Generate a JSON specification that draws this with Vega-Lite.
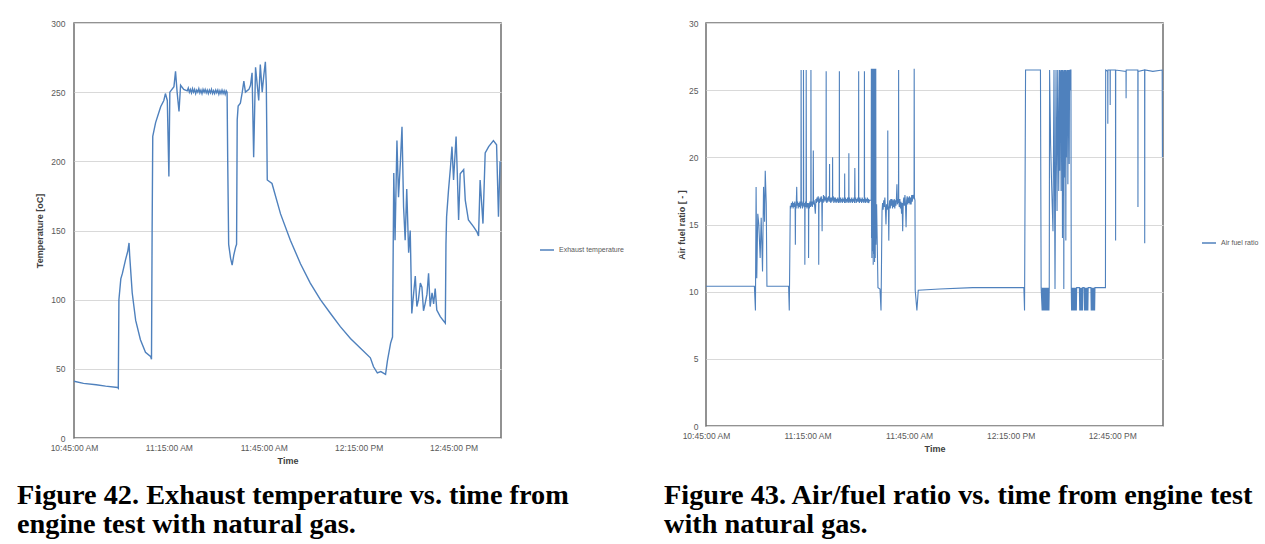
{
  "$schema": "https://vega.github.io/schema/vega-lite/v6.json",
  "background": "white",
  "padding": {"left": 16, "top": 18, "right": 0, "bottom": 0},
  "bounds": "flush",
  "spacing": 205,
  "resolve": {"scale": {"color": "independent"}, "legend": {"color": "independent"}},
  "config": {
    "view": {"stroke": "#6f6f6f", "strokeWidth": 1.5},
    "axis": {"labelFont": "Liberation Sans", "labelFontSize": 8.5, "labelColor": "#595959", "titleFont": "Liberation Sans", "titleFontSize": 9, "titleColor": "#404040", "titleFontWeight": "bold", "domain": false, "ticks": false, "tickSize": 0, "gridColor": "#d9d9d9", "gridWidth": 1, "labelFlush": false},
    "legend": {"labelFont": "Liberation Sans", "labelFontSize": 7, "labelColor": "#595959", "symbolType": "stroke", "symbolSize": 196, "symbolStrokeWidth": 1.5, "padding": 0, "orient": "none"},
    "title": {"font": "Liberation Serif", "fontSize": 28.3, "fontWeight": "bold", "color": "#000000", "anchor": "start", "orient": "bottom", "frame": "group", "lineHeight": 29.5}
  },
  "datasets": {
    "temp": [
      {"t": "10:45:00", "v": 41}, {"t": "10:48:00", "v": 39.5}, {"t": "10:52:00", "v": 38.5}, {"t": "10:55:00", "v": 37.5},
      {"t": "10:58:48", "v": 36.5}, {"t": "10:59:00", "v": 36}, {"t": "10:59:12", "v": 100}, {"t": "10:59:48", "v": 115},
      {"t": "11:00:18", "v": 119}, {"t": "11:01:18", "v": 129}, {"t": "11:02:00", "v": 135}, {"t": "11:02:24", "v": 141},
      {"t": "11:02:36", "v": 132}, {"t": "11:03:24", "v": 105}, {"t": "11:04:30", "v": 85}, {"t": "11:06:00", "v": 71},
      {"t": "11:07:36", "v": 62}, {"t": "11:09:12", "v": 59}, {"t": "11:09:30", "v": 57}, {"t": "11:09:42", "v": 150},
      {"t": "11:09:54", "v": 218}, {"t": "11:10:48", "v": 228}, {"t": "11:12:24", "v": 239.5}, {"t": "11:13:24", "v": 244},
      {"t": "11:13:54", "v": 249}, {"t": "11:14:30", "v": 244}, {"t": "11:15:00", "v": 189}, {"t": "11:15:18", "v": 250},
      {"t": "11:16:36", "v": 254}, {"t": "11:17:06", "v": 265}, {"t": "11:17:36", "v": 250}, {"t": "11:18:12", "v": 236},
      {"t": "11:18:42", "v": 255}, {"t": "11:19:42", "v": 252}, {"t": "11:20:48", "v": 251}, {"t": "11:21:08", "v": 253},
      {"t": "11:21:28", "v": 250}, {"t": "11:21:48", "v": 252}, {"t": "11:22:08", "v": 249.5}, {"t": "11:22:28", "v": 252.5},
      {"t": "11:22:48", "v": 250}, {"t": "11:23:08", "v": 252}, {"t": "11:23:28", "v": 249}, {"t": "11:23:48", "v": 251.5},
      {"t": "11:24:08", "v": 250}, {"t": "11:24:28", "v": 252.5}, {"t": "11:24:48", "v": 249.5}, {"t": "11:25:08", "v": 251.5},
      {"t": "11:25:28", "v": 249}, {"t": "11:25:48", "v": 252}, {"t": "11:26:08", "v": 250}, {"t": "11:26:28", "v": 252},
      {"t": "11:26:48", "v": 249.5}, {"t": "11:27:08", "v": 251.5}, {"t": "11:27:28", "v": 249}, {"t": "11:27:48", "v": 251.5},
      {"t": "11:28:08", "v": 249.5}, {"t": "11:28:28", "v": 252}, {"t": "11:28:48", "v": 249}, {"t": "11:29:08", "v": 251},
      {"t": "11:29:28", "v": 249}, {"t": "11:29:48", "v": 251.5}, {"t": "11:30:08", "v": 249.5}, {"t": "11:30:28", "v": 251.5},
      {"t": "11:30:48", "v": 248.5}, {"t": "11:31:08", "v": 251}, {"t": "11:31:28", "v": 249}, {"t": "11:31:48", "v": 251.5},
      {"t": "11:32:08", "v": 249}, {"t": "11:32:28", "v": 251}, {"t": "11:32:48", "v": 248.5}, {"t": "11:33:08", "v": 251},
      {"t": "11:33:24", "v": 250}, {"t": "11:33:36", "v": 200},
      {"t": "11:33:54", "v": 140}, {"t": "11:34:30", "v": 130}, {"t": "11:35:00", "v": 125}, {"t": "11:35:30", "v": 132},
      {"t": "11:36:06", "v": 138}, {"t": "11:36:24", "v": 140}, {"t": "11:36:36", "v": 230}, {"t": "11:36:54", "v": 240},
      {"t": "11:37:36", "v": 242}, {"t": "11:38:12", "v": 250}, {"t": "11:38:42", "v": 258}, {"t": "11:39:12", "v": 250},
      {"t": "11:40:18", "v": 252}, {"t": "11:40:48", "v": 255}, {"t": "11:41:18", "v": 264}, {"t": "11:41:48", "v": 203},
      {"t": "11:42:24", "v": 268}, {"t": "11:43:24", "v": 244}, {"t": "11:43:54", "v": 270}, {"t": "11:44:30", "v": 250},
      {"t": "11:45:00", "v": 262}, {"t": "11:45:30", "v": 272}, {"t": "11:45:48", "v": 255}, {"t": "11:46:06", "v": 186.5},
      {"t": "11:47:36", "v": 184}, {"t": "11:50:18", "v": 162}, {"t": "11:53:24", "v": 143}, {"t": "11:56:36", "v": 126},
      {"t": "11:59:42", "v": 112}, {"t": "12:02:54", "v": 100}, {"t": "12:06:06", "v": 90}, {"t": "12:09:12", "v": 80.5},
      {"t": "12:12:24", "v": 72}, {"t": "12:15:30", "v": 65}, {"t": "12:18:42", "v": 58}, {"t": "12:19:42", "v": 51.5},
      {"t": "12:20:54", "v": 47}, {"t": "12:22:00", "v": 48}, {"t": "12:23:30", "v": 46}, {"t": "12:24:06", "v": 56},
      {"t": "12:25:06", "v": 68.6}, {"t": "12:25:42", "v": 73}, {"t": "12:26:06", "v": 191.5}, {"t": "12:26:30", "v": 143},
      {"t": "12:27:06", "v": 215}, {"t": "12:27:36", "v": 174}, {"t": "12:28:12", "v": 200}, {"t": "12:28:42", "v": 225},
      {"t": "12:29:12", "v": 167}, {"t": "12:29:42", "v": 143}, {"t": "12:30:12", "v": 180}, {"t": "12:30:48", "v": 134},
      {"t": "12:31:18", "v": 150}, {"t": "12:31:48", "v": 90}, {"t": "12:32:24", "v": 105}, {"t": "12:32:54", "v": 117},
      {"t": "12:33:24", "v": 95}, {"t": "12:33:54", "v": 100}, {"t": "12:34:30", "v": 112}, {"t": "12:35:00", "v": 109},
      {"t": "12:35:30", "v": 92}, {"t": "12:36:00", "v": 97}, {"t": "12:36:36", "v": 104}, {"t": "12:37:06", "v": 119},
      {"t": "12:37:36", "v": 95}, {"t": "12:38:12", "v": 105}, {"t": "12:38:42", "v": 97}, {"t": "12:39:12", "v": 108},
      {"t": "12:39:42", "v": 92.5}, {"t": "12:40:48", "v": 87.7}, {"t": "12:42:24", "v": 83}, {"t": "12:42:36", "v": 140},
      {"t": "12:42:48", "v": 160}, {"t": "12:43:24", "v": 179}, {"t": "12:44:00", "v": 195}, {"t": "12:44:30", "v": 210.6},
      {"t": "12:45:00", "v": 186.5}, {"t": "12:45:48", "v": 218}, {"t": "12:46:12", "v": 190}, {"t": "12:46:36", "v": 157.6},
      {"t": "12:47:06", "v": 191}, {"t": "12:48:12", "v": 194}, {"t": "12:48:42", "v": 172}, {"t": "12:49:42", "v": 157.6},
      {"t": "12:51:18", "v": 152.8}, {"t": "12:52:24", "v": 149}, {"t": "12:52:54", "v": 146}, {"t": "12:53:24", "v": 186.5},
      {"t": "12:54:18", "v": 155}, {"t": "12:55:00", "v": 206}, {"t": "12:56:06", "v": 210.6}, {"t": "12:57:36", "v": 215},
      {"t": "12:58:36", "v": 212}, {"t": "12:59:12", "v": 160}, {"t": "12:59:42", "v": 200}
    ],
    "afr": [
      {"t": "10:45:00", "v": 10.4}, {"t": "10:59:18", "v": 10.4}, {"t": "10:59:36", "v": 8.6}, {"t": "10:59:48", "v": 17.8},
      {"t": "11:00:00", "v": 11.0}, {"t": "11:00:18", "v": 15.8}, {"t": "11:00:36", "v": 15.0}, {"t": "11:01:00", "v": 12.5},
      {"t": "11:01:18", "v": 15.5}, {"t": "11:01:42", "v": 11.5}, {"t": "11:02:00", "v": 17.8}, {"t": "11:02:18", "v": 15.2},
      {"t": "11:02:30", "v": 19.0}, {"t": "11:02:48", "v": 16.5}, {"t": "11:03:00", "v": 10.4}, {"t": "11:09:24", "v": 10.4},
      {"t": "11:09:36", "v": 8.6}, {"t": "11:09:54", "v": 16.4},
      {"t": "11:10:04", "v": 16.2}, {"t": "11:10:14", "v": 16.6}, {"t": "11:10:24", "v": 16.3}, {"t": "11:10:34", "v": 16.7},
      {"t": "11:10:44", "v": 16.2}, {"t": "11:10:54", "v": 16.6}, {"t": "11:11:04", "v": 16.3}, {"t": "11:11:14", "v": 16.7},
      {"t": "11:11:20", "v": 16.4}, {"t": "11:11:24", "v": 13.5}, {"t": "11:11:28", "v": 16.5}, {"t": "11:11:38", "v": 16.2},
      {"t": "11:11:48", "v": 17.8}, {"t": "11:11:54", "v": 16.4}, {"t": "11:12:04", "v": 16.7}, {"t": "11:12:14", "v": 16.2},
      {"t": "11:12:24", "v": 16.6}, {"t": "11:12:34", "v": 16.3}, {"t": "11:12:44", "v": 16.7}, {"t": "11:12:54", "v": 16.2},
      {"t": "11:13:02", "v": 16.5}, {"t": "11:13:06", "v": 26.5}, {"t": "11:13:10", "v": 16.4}, {"t": "11:13:20", "v": 16.7},
      {"t": "11:13:30", "v": 16.2}, {"t": "11:13:40", "v": 16.6}, {"t": "11:13:46", "v": 16.4}, {"t": "11:13:48", "v": 26.5},
      {"t": "11:13:52", "v": 16.5}, {"t": "11:14:02", "v": 16.3}, {"t": "11:14:10", "v": 16.6}, {"t": "11:14:12", "v": 12.0},
      {"t": "11:14:16", "v": 16.4}, {"t": "11:14:26", "v": 16.7}, {"t": "11:14:34", "v": 16.3}, {"t": "11:14:36", "v": 26.5},
      {"t": "11:14:40", "v": 16.6}, {"t": "11:14:50", "v": 16.2}, {"t": "11:15:00", "v": 16.6}, {"t": "11:15:10", "v": 16.3},
      {"t": "11:15:16", "v": 16.5}, {"t": "11:15:18", "v": 12.5}, {"t": "11:15:22", "v": 16.6}, {"t": "11:15:32", "v": 16.2},
      {"t": "11:15:42", "v": 16.7}, {"t": "11:15:52", "v": 16.3}, {"t": "11:15:58", "v": 16.6}, {"t": "11:16:00", "v": 26.5},
      {"t": "11:16:04", "v": 16.4}, {"t": "11:16:14", "v": 16.7}, {"t": "11:16:24", "v": 16.3}, {"t": "11:16:38", "v": 16.8},
      {"t": "11:16:42", "v": 20.5}, {"t": "11:16:46", "v": 16.5}, {"t": "11:16:56", "v": 16.8}, {"t": "11:17:06", "v": 16.4},
      {"t": "11:17:18", "v": 15.8}, {"t": "11:17:28", "v": 16.9}, {"t": "11:17:38", "v": 16.6}, {"t": "11:17:48", "v": 17.0},
      {"t": "11:17:58", "v": 16.7}, {"t": "11:18:08", "v": 17.1}, {"t": "11:18:16", "v": 16.8}, {"t": "11:18:18", "v": 12.0},
      {"t": "11:18:22", "v": 16.9}, {"t": "11:18:32", "v": 16.6}, {"t": "11:18:42", "v": 17.0}, {"t": "11:18:52", "v": 16.7},
      {"t": "11:19:02", "v": 17.1}, {"t": "11:19:12", "v": 16.8}, {"t": "11:19:18", "v": 14.5}, {"t": "11:19:24", "v": 16.9},
      {"t": "11:19:34", "v": 16.6}, {"t": "11:19:42", "v": 17.2},
      {"t": "11:19:52", "v": 16.7}, {"t": "11:20:02", "v": 17.1}, {"t": "11:20:12", "v": 16.8}, {"t": "11:20:22", "v": 17.0},
      {"t": "11:20:28", "v": 16.7}, {"t": "11:20:30", "v": 26.4}, {"t": "11:20:32", "v": 16.9}, {"t": "11:20:42", "v": 16.6},
      {"t": "11:20:52", "v": 17.0}, {"t": "11:21:02", "v": 16.7}, {"t": "11:21:12", "v": 17.1}, {"t": "11:21:22", "v": 16.8},
      {"t": "11:21:28", "v": 16.9}, {"t": "11:21:30", "v": 19.5}, {"t": "11:21:32", "v": 16.7}, {"t": "11:21:42", "v": 17.0},
      {"t": "11:21:52", "v": 16.6}, {"t": "11:22:02", "v": 17.0}, {"t": "11:22:12", "v": 16.7}, {"t": "11:22:22", "v": 16.9},
      {"t": "11:22:24", "v": 20.0}, {"t": "11:22:26", "v": 16.8}, {"t": "11:22:36", "v": 17.1}, {"t": "11:22:46", "v": 16.6},
      {"t": "11:22:56", "v": 17.0}, {"t": "11:23:06", "v": 16.7}, {"t": "11:23:16", "v": 17.0}, {"t": "11:23:26", "v": 16.6},
      {"t": "11:23:36", "v": 16.9}, {"t": "11:23:46", "v": 16.7}, {"t": "11:23:56", "v": 17.0}, {"t": "11:24:06", "v": 16.6},
      {"t": "11:24:16", "v": 16.9}, {"t": "11:24:22", "v": 16.7}, {"t": "11:24:24", "v": 26.4}, {"t": "11:24:26", "v": 16.9},
      {"t": "11:24:36", "v": 16.6}, {"t": "11:24:46", "v": 17.0}, {"t": "11:24:56", "v": 16.7}, {"t": "11:25:06", "v": 16.9},
      {"t": "11:25:16", "v": 16.6}, {"t": "11:25:26", "v": 17.0}, {"t": "11:25:36", "v": 16.7}, {"t": "11:25:46", "v": 16.9},
      {"t": "11:25:56", "v": 16.6}, {"t": "11:25:58", "v": 18.8}, {"t": "11:26:00", "v": 16.8}, {"t": "11:26:10", "v": 17.0},
      {"t": "11:26:20", "v": 16.6}, {"t": "11:26:30", "v": 16.9}, {"t": "11:26:40", "v": 16.7}, {"t": "11:26:50", "v": 17.0},
      {"t": "11:27:00", "v": 16.6}, {"t": "11:27:10", "v": 16.9}, {"t": "11:27:12", "v": 20.3}, {"t": "11:27:14", "v": 16.7},
      {"t": "11:27:24", "v": 17.0}, {"t": "11:27:34", "v": 16.6}, {"t": "11:27:44", "v": 16.9}, {"t": "11:27:54", "v": 16.7},
      {"t": "11:28:04", "v": 17.0}, {"t": "11:28:14", "v": 16.6}, {"t": "11:28:24", "v": 16.9}, {"t": "11:28:34", "v": 16.7},
      {"t": "11:28:44", "v": 17.0}, {"t": "11:28:54", "v": 16.6}, {"t": "11:28:58", "v": 19.2}, {"t": "11:29:02", "v": 16.8},
      {"t": "11:29:12", "v": 17.0}, {"t": "11:29:22", "v": 16.6}, {"t": "11:29:32", "v": 16.9}, {"t": "11:29:42", "v": 16.7},
      {"t": "11:29:52", "v": 17.0}, {"t": "11:30:04", "v": 16.7}, {"t": "11:30:06", "v": 26.4}, {"t": "11:30:08", "v": 16.9},
      {"t": "11:30:18", "v": 16.6}, {"t": "11:30:28", "v": 17.0}, {"t": "11:30:38", "v": 16.7}, {"t": "11:30:48", "v": 16.9},
      {"t": "11:30:58", "v": 16.6}, {"t": "11:31:08", "v": 17.0}, {"t": "11:31:18", "v": 16.7}, {"t": "11:31:28", "v": 16.9},
      {"t": "11:31:38", "v": 16.6}, {"t": "11:31:46", "v": 16.9}, {"t": "11:31:48", "v": 26.4}, {"t": "11:31:50", "v": 16.7},
      {"t": "11:32:00", "v": 17.0}, {"t": "11:32:10", "v": 16.6}, {"t": "11:32:20", "v": 16.9}, {"t": "11:32:30", "v": 16.7},
      {"t": "11:32:40", "v": 17.0}, {"t": "11:32:50", "v": 16.6}, {"t": "11:33:00", "v": 16.9}, {"t": "11:33:10", "v": 16.7},
      {"t": "11:33:18", "v": 16.8}, {"t": "11:33:48", "v": 16.8}, {"t": "11:33:51", "v": 26.6}, {"t": "11:33:54", "v": 14.0},
      {"t": "11:33:57", "v": 26.6}, {"t": "11:34:00", "v": 12.5}, {"t": "11:34:03", "v": 26.4}, {"t": "11:34:06", "v": 15.0},
      {"t": "11:34:09", "v": 26.6}, {"t": "11:34:12", "v": 13.0}, {"t": "11:34:15", "v": 26.6}, {"t": "11:34:18", "v": 16.0},
      {"t": "11:34:21", "v": 26.5}, {"t": "11:34:24", "v": 12.0}, {"t": "11:34:27", "v": 26.6}, {"t": "11:34:30", "v": 14.5},
      {"t": "11:34:33", "v": 26.6}, {"t": "11:34:36", "v": 12.8}, {"t": "11:34:39", "v": 26.6}, {"t": "11:34:42", "v": 15.5},
      {"t": "11:34:45", "v": 26.5}, {"t": "11:34:48", "v": 12.2}, {"t": "11:34:51", "v": 26.6}, {"t": "11:34:54", "v": 14.0},
      {"t": "11:34:57", "v": 26.6}, {"t": "11:35:00", "v": 12.5}, {"t": "11:35:03", "v": 26.6}, {"t": "11:35:06", "v": 15.0},
      {"t": "11:35:09", "v": 26.6}, {"t": "11:35:12", "v": 13.5}, {"t": "11:35:24", "v": 16.5}, {"t": "11:35:48", "v": 10.3},
      {"t": "11:36:24", "v": 10.2}, {"t": "11:36:42", "v": 8.6},
      {"t": "11:37:00", "v": 16.0}, {"t": "11:37:10", "v": 16.6}, {"t": "11:37:20", "v": 16.1}, {"t": "11:37:30", "v": 16.8},
      {"t": "11:37:40", "v": 16.3}, {"t": "11:37:50", "v": 17.0}, {"t": "11:38:00", "v": 16.2}, {"t": "11:38:10", "v": 15.0},
      {"t": "11:38:20", "v": 16.5}, {"t": "11:38:30", "v": 16.1}, {"t": "11:38:40", "v": 16.7}, {"t": "11:38:42", "v": 22.0},
      {"t": "11:38:44", "v": 16.4}, {"t": "11:38:54", "v": 16.0}, {"t": "11:39:00", "v": 13.8}, {"t": "11:39:06", "v": 16.3},
      {"t": "11:39:16", "v": 16.8}, {"t": "11:39:26", "v": 16.2}, {"t": "11:39:36", "v": 16.9}, {"t": "11:39:46", "v": 16.4},
      {"t": "11:39:56", "v": 16.9}, {"t": "11:40:06", "v": 16.2}, {"t": "11:40:16", "v": 16.8}, {"t": "11:40:26", "v": 16.3},
      {"t": "11:40:36", "v": 16.9}, {"t": "11:40:46", "v": 16.2}, {"t": "11:40:56", "v": 16.8}, {"t": "11:41:06", "v": 16.4},
      {"t": "11:41:16", "v": 17.0}, {"t": "11:41:24", "v": 18.0}, {"t": "11:41:32", "v": 16.5}, {"t": "11:41:42", "v": 16.9},
      {"t": "11:41:52", "v": 16.6}, {"t": "11:41:54", "v": 26.5}, {"t": "11:41:56", "v": 16.8}, {"t": "11:42:06", "v": 16.3},
      {"t": "11:42:16", "v": 16.9}, {"t": "11:42:26", "v": 16.2}, {"t": "11:42:36", "v": 16.7}, {"t": "11:42:46", "v": 15.8},
      {"t": "11:42:56", "v": 16.6}, {"t": "11:43:06", "v": 14.5}, {"t": "11:43:16", "v": 16.6}, {"t": "11:43:26", "v": 17.0},
      {"t": "11:43:36", "v": 16.4}, {"t": "11:43:46", "v": 17.2}, {"t": "11:43:56", "v": 16.5}, {"t": "11:44:06", "v": 14.8},
      {"t": "11:44:16", "v": 16.8}, {"t": "11:44:26", "v": 17.1}, {"t": "11:44:36", "v": 16.5}, {"t": "11:44:46", "v": 17.0},
      {"t": "11:44:56", "v": 16.6}, {"t": "11:45:06", "v": 17.1}, {"t": "11:45:16", "v": 16.5}, {"t": "11:45:26", "v": 17.0},
      {"t": "11:45:36", "v": 16.5}, {"t": "11:45:46", "v": 17.2}, {"t": "11:45:56", "v": 16.7}, {"t": "11:46:06", "v": 17.2},
      {"t": "11:46:28", "v": 16.9}, {"t": "11:46:30", "v": 26.6}, {"t": "11:46:34", "v": 17.0}, {"t": "11:46:44", "v": 16.8},
      {"t": "11:46:48", "v": 10.1},
      {"t": "11:47:18", "v": 8.6}, {"t": "11:47:42", "v": 10.1}, {"t": "11:54:00", "v": 10.2}, {"t": "12:03:48", "v": 10.3},
      {"t": "12:18:54", "v": 10.3}, {"t": "12:19:06", "v": 8.6}, {"t": "12:19:24", "v": 26.5}, {"t": "12:23:48", "v": 26.5},
      {"t": "12:24:00", "v": 10.3}, {"t": "12:24:18", "v": 8.6}, {"t": "12:24:22", "v": 10.3}, {"t": "12:24:26", "v": 8.6},
      {"t": "12:24:30", "v": 10.3}, {"t": "12:24:34", "v": 8.6}, {"t": "12:24:38", "v": 10.3}, {"t": "12:24:42", "v": 8.6},
      {"t": "12:24:46", "v": 10.3}, {"t": "12:24:50", "v": 8.6}, {"t": "12:24:54", "v": 10.3}, {"t": "12:24:58", "v": 8.6},
      {"t": "12:25:02", "v": 10.3}, {"t": "12:25:06", "v": 8.6}, {"t": "12:25:10", "v": 10.3}, {"t": "12:25:14", "v": 8.6},
      {"t": "12:25:18", "v": 10.3}, {"t": "12:25:22", "v": 8.6}, {"t": "12:25:26", "v": 10.3}, {"t": "12:25:30", "v": 8.6},
      {"t": "12:25:34", "v": 10.3}, {"t": "12:25:38", "v": 8.6}, {"t": "12:25:42", "v": 10.3}, {"t": "12:25:46", "v": 8.6},
      {"t": "12:25:50", "v": 10.3}, {"t": "12:25:54", "v": 8.6}, {"t": "12:25:58", "v": 10.3}, {"t": "12:26:02", "v": 8.6},
      {"t": "12:26:06", "v": 10.3}, {"t": "12:26:10", "v": 8.6}, {"t": "12:26:14", "v": 10.3}, {"t": "12:26:18", "v": 8.6},
      {"t": "12:26:24", "v": 10.3}, {"t": "12:26:30", "v": 26.5}, {"t": "12:26:48", "v": 21.0}, {"t": "12:27:06", "v": 18.0},
      {"t": "12:27:30", "v": 14.5}, {"t": "12:27:48", "v": 26.5}, {"t": "12:28:06", "v": 10.2}, {"t": "12:28:24", "v": 26.5},
      {"t": "12:28:42", "v": 16.0}, {"t": "12:28:54", "v": 26.5}, {"t": "12:29:12", "v": 17.5}, {"t": "12:29:24", "v": 26.5},
      {"t": "12:29:30", "v": 19.0}, {"t": "12:29:36", "v": 26.5}, {"t": "12:29:42", "v": 22.0}, {"t": "12:29:48", "v": 26.4},
      {"t": "12:29:54", "v": 17.5}, {"t": "12:30:00", "v": 26.5}, {"t": "12:30:06", "v": 20.5}, {"t": "12:30:12", "v": 26.5},
      {"t": "12:30:18", "v": 14.0}, {"t": "12:30:24", "v": 26.5}, {"t": "12:30:30", "v": 21.5}, {"t": "12:30:36", "v": 26.4},
      {"t": "12:30:42", "v": 10.2}, {"t": "12:30:48", "v": 26.5}, {"t": "12:30:54", "v": 18.5}, {"t": "12:31:00", "v": 26.5},
      {"t": "12:31:06", "v": 23.0}, {"t": "12:31:12", "v": 26.5}, {"t": "12:31:18", "v": 13.8}, {"t": "12:31:24", "v": 26.5},
      {"t": "12:31:30", "v": 20.0}, {"t": "12:31:36", "v": 26.4}, {"t": "12:31:42", "v": 22.5}, {"t": "12:31:48", "v": 26.5},
      {"t": "12:31:54", "v": 18.0}, {"t": "12:32:00", "v": 26.5}, {"t": "12:32:06", "v": 24.0}, {"t": "12:32:12", "v": 26.5},
      {"t": "12:32:18", "v": 19.5}, {"t": "12:32:24", "v": 26.5}, {"t": "12:32:30", "v": 25.0}, {"t": "12:32:36", "v": 26.5},
      {"t": "12:32:48", "v": 26.5}, {"t": "12:32:54", "v": 10.3}, {"t": "12:33:00", "v": 8.6}, {"t": "12:33:06", "v": 10.3},
      {"t": "12:33:12", "v": 8.6}, {"t": "12:33:18", "v": 10.3}, {"t": "12:33:24", "v": 8.6}, {"t": "12:33:30", "v": 10.3},
      {"t": "12:33:36", "v": 8.6}, {"t": "12:33:42", "v": 10.3}, {"t": "12:33:48", "v": 8.6}, {"t": "12:33:54", "v": 10.3},
      {"t": "12:34:00", "v": 8.6}, {"t": "12:34:06", "v": 10.3}, {"t": "12:34:12", "v": 8.6}, {"t": "12:34:18", "v": 10.3},
      {"t": "12:34:24", "v": 8.6}, {"t": "12:34:30", "v": 10.3}, {"t": "12:35:18", "v": 10.3}, {"t": "12:35:24", "v": 8.6},
      {"t": "12:35:30", "v": 10.3}, {"t": "12:35:36", "v": 8.6}, {"t": "12:35:42", "v": 10.3}, {"t": "12:35:48", "v": 8.6},
      {"t": "12:35:54", "v": 10.3}, {"t": "12:36:00", "v": 8.6}, {"t": "12:36:06", "v": 10.3}, {"t": "12:36:12", "v": 8.6},
      {"t": "12:36:18", "v": 10.3}, {"t": "12:36:42", "v": 10.3}, {"t": "12:36:48", "v": 8.6}, {"t": "12:36:54", "v": 10.3},
      {"t": "12:37:00", "v": 8.6}, {"t": "12:37:06", "v": 10.3}, {"t": "12:37:12", "v": 8.6}, {"t": "12:37:18", "v": 10.3},
      {"t": "12:37:24", "v": 8.6}, {"t": "12:37:30", "v": 10.3}, {"t": "12:37:36", "v": 8.6}, {"t": "12:37:42", "v": 10.3},
      {"t": "12:37:48", "v": 8.6}, {"t": "12:37:54", "v": 10.3}, {"t": "12:38:42", "v": 10.3}, {"t": "12:38:48", "v": 8.6},
      {"t": "12:38:54", "v": 10.3}, {"t": "12:39:00", "v": 8.6}, {"t": "12:39:06", "v": 10.3}, {"t": "12:39:12", "v": 8.6},
      {"t": "12:39:18", "v": 10.3}, {"t": "12:39:24", "v": 8.6}, {"t": "12:39:30", "v": 10.3}, {"t": "12:39:36", "v": 8.6},
      {"t": "12:39:42", "v": 10.3}, {"t": "12:39:48", "v": 8.6}, {"t": "12:39:54", "v": 10.3}, {"t": "12:43:00", "v": 10.3},
      {"t": "12:43:04", "v": 26.5}, {"t": "12:43:40", "v": 26.4}, {"t": "12:43:42", "v": 22.5}, {"t": "12:43:44", "v": 26.5},
      {"t": "12:44:22", "v": 26.5}, {"t": "12:44:24", "v": 23.9}, {"t": "12:44:26", "v": 26.5}, {"t": "12:45:58", "v": 26.5},
      {"t": "12:46:00", "v": 13.8}, {"t": "12:46:02", "v": 26.5}, {"t": "12:49:04", "v": 26.4}, {"t": "12:49:06", "v": 24.4},
      {"t": "12:49:08", "v": 26.5}, {"t": "12:52:34", "v": 26.5}, {"t": "12:52:36", "v": 16.3}, {"t": "12:52:38", "v": 26.4},
      {"t": "12:54:34", "v": 26.5}, {"t": "12:54:36", "v": 13.6}, {"t": "12:54:38", "v": 26.5}, {"t": "12:57:00", "v": 26.4},
      {"t": "12:59:46", "v": 26.5}, {"t": "12:59:50", "v": 20.0}
    ]
  },
  "hconcat": [
    {
      "width": 427,
      "height": 415,
      "title": {"text": ["Figure 42. Exhaust temperature vs. time from", "engine test with natural gas."], "dx": -57, "offset": 16},
      "data": {"name": "temp", "format": {"parse": {"t": "date:'%H:%M:%S'"}}},
      "mark": {"type": "line", "strokeWidth": 1.4, "interpolate": "linear"},
      "encoding": {
        "x": {"field": "t", "type": "temporal",
          "scale": {"domain": [{"year": 1900, "month": 1, "date": 1, "hours": 10, "minutes": 45}, {"year": 1900, "month": 1, "date": 1, "hours": 13, "minutes": 0}], "nice": false},
          "axis": {"title": "Time", "format": "%-I:%M:%S %p", "grid": false, "labelPadding": 5, "titlePadding": 5,
            "values": [{"year": 1900, "month": 1, "date": 1, "hours": 10, "minutes": 45}, {"year": 1900, "month": 1, "date": 1, "hours": 11, "minutes": 15}, {"year": 1900, "month": 1, "date": 1, "hours": 11, "minutes": 45}, {"year": 1900, "month": 1, "date": 1, "hours": 12, "minutes": 15}, {"year": 1900, "month": 1, "date": 1, "hours": 12, "minutes": 45}]}},
        "y": {"field": "v", "type": "quantitative", "scale": {"domain": [0, 300], "nice": false},
          "axis": {"title": "Temperature [oC]", "values": [0, 50, 100, 150, 200, 250, 300], "labelPadding": 9, "titlePadding": 6}},
        "color": {"datum": "Exhaust temperature", "scale": {"range": ["#4F81BD"]},
          "legend": {"title": null, "legendX": 465, "legendY": 219}}
      }
    },
    {
      "width": 457,
      "height": 403,
      "title": {"text": ["Figure 43. Air/fuel ratio vs. time from engine test", "with natural gas."], "dx": -42, "offset": 28},
      "data": {"name": "afr", "format": {"parse": {"t": "date:'%H:%M:%S'"}}},
      "mark": {"type": "line", "strokeWidth": 1.1, "interpolate": "linear"},
      "encoding": {
        "x": {"field": "t", "type": "temporal",
          "scale": {"domain": [{"year": 1900, "month": 1, "date": 1, "hours": 10, "minutes": 45}, {"year": 1900, "month": 1, "date": 1, "hours": 13, "minutes": 0}], "nice": false},
          "axis": {"title": "Time", "format": "%-I:%M:%S %p", "grid": false, "labelPadding": 5, "titlePadding": 5,
            "values": [{"year": 1900, "month": 1, "date": 1, "hours": 10, "minutes": 45}, {"year": 1900, "month": 1, "date": 1, "hours": 11, "minutes": 15}, {"year": 1900, "month": 1, "date": 1, "hours": 11, "minutes": 45}, {"year": 1900, "month": 1, "date": 1, "hours": 12, "minutes": 15}, {"year": 1900, "month": 1, "date": 1, "hours": 12, "minutes": 45}]}},
        "y": {"field": "v", "type": "quantitative", "scale": {"domain": [0, 30], "nice": false},
          "axis": {"title": "Air fuel ratio [ - ]", "values": [0, 5, 10, 15, 20, 25, 30], "labelPadding": 8, "titlePadding": 2}},
        "color": {"datum": "Air fuel ratio", "scale": {"range": ["#4F81BD"]},
          "legend": {"title": null, "legendX": 495, "legendY": 212}}
      }
    }
  ]
}
